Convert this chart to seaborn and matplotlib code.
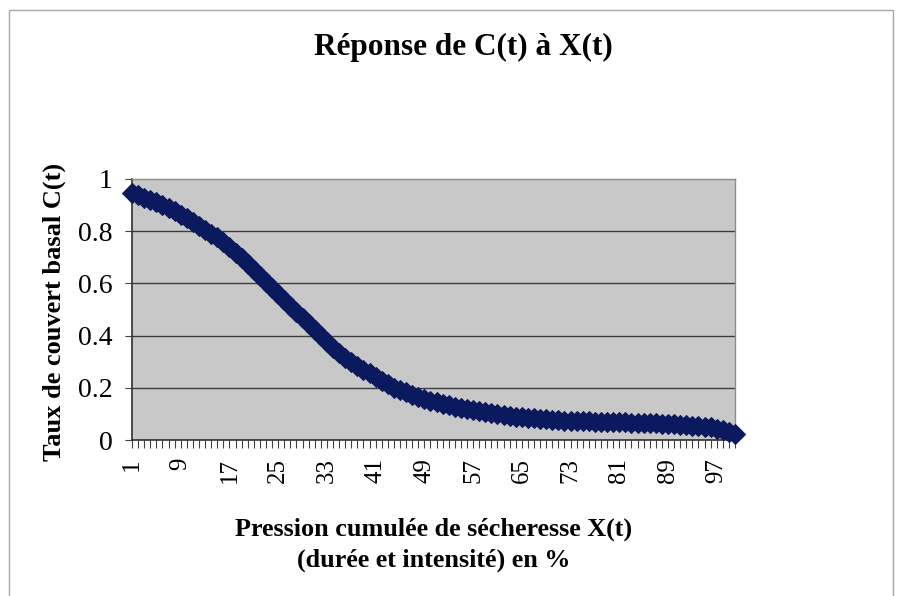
import matplotlib
matplotlib.use("Agg")
import matplotlib.pyplot as plt
from matplotlib.patches import Rectangle
import seaborn as sns
import pandas as pd

# ---- data ----
x_values = list(range(1, 101))
c_values = [
    0.945, 0.937, 0.929, 0.920, 0.910, 0.899, 0.888, 0.876, 0.863, 0.850,
    0.836, 0.821, 0.806, 0.791, 0.776, 0.760, 0.739, 0.718, 0.696, 0.673,
    0.650, 0.628, 0.605, 0.583, 0.560, 0.538, 0.515, 0.492, 0.469, 0.446,
    0.423, 0.400, 0.377, 0.354, 0.332, 0.315, 0.299, 0.284, 0.270, 0.255,
    0.241, 0.227, 0.214, 0.201, 0.191, 0.182, 0.174, 0.166, 0.158, 0.151,
    0.145, 0.139, 0.133, 0.128, 0.123, 0.118, 0.114, 0.110, 0.106, 0.102,
    0.099, 0.096, 0.093, 0.090, 0.088, 0.085, 0.083, 0.081, 0.079, 0.077,
    0.076, 0.074, 0.073, 0.072, 0.071, 0.071, 0.070, 0.070, 0.069, 0.069,
    0.068, 0.068, 0.067, 0.067, 0.066, 0.065, 0.064, 0.063, 0.062, 0.061,
    0.059, 0.057, 0.055, 0.053, 0.051, 0.048, 0.044, 0.039, 0.032, 0.023,
]
x_tick_labels = [str(v) for v in range(1, 101, 8)]
y_ticks = [0, 0.2, 0.4, 0.6, 0.8, 1]
y_tick_labels = ["0", "0.2", "0.4", "0.6", "0.8", "1"]

title = "Réponse de C(t) à X(t)"
xlabel = "Pression cumulée de sécheresse X(t)\n(durée et intensité) en %"
ylabel = "Taux de couvert basal C(t)"

df = pd.DataFrame({"X": x_values, "C": c_values})

sns.set_theme(style="white")
plt.rcParams["font.family"] = ["Liberation Serif", "DejaVu Serif"]
plt.rcParams["text.color"] = "black"
plt.rcParams["xtick.color"] = "black"
plt.rcParams["ytick.color"] = "black"
plt.rcParams["xtick.labelcolor"] = "black"
plt.rcParams["ytick.labelcolor"] = "black"

fig = plt.figure(figsize=(9.04, 5.96), dpi=100)
fig.patch.set_facecolor("white")
ax = fig.add_axes([132 / 904, 1 - 440 / 596, (735 - 132) / 904, (440 - 179) / 596])
ax.set_facecolor("#c8c8c8")

navy = "#0b1a5e"
sns.lineplot(data=df, x="X", y="C", ax=ax, color=navy, linewidth=4,
             marker="D", markersize=10, markeredgecolor=navy,
             markerfacecolor=navy, legend=False, clip_on=False, zorder=5)

ax.set_xlim(1, 100)
ax.set_ylim(0, 1)
ax.set_xticks(list(range(1, 101, 8)))
ax.set_xticklabels(x_tick_labels, rotation=90, fontsize=18)
ax.set_xticks(x_values, minor=True)
ax.set_yticks(y_ticks)
ax.set_yticklabels(y_tick_labels, fontsize=20)

ax.tick_params(axis="x", which="both", direction="out", length=6, width=0.8,
               color="#404040", bottom=True, pad=7)
ax.tick_params(axis="y", which="major", direction="out", length=5, width=0.8,
               color="#404040", left=True, pad=9)

for yv in [0.2, 0.4, 0.6, 0.8]:
    ax.axhline(yv, color="#3c3c3c", linewidth=1.0, zorder=1)

for side in ["left", "bottom"]:
    ax.spines[side].set_color("#303030")
    ax.spines[side].set_linewidth(1.2)
for side in ["top", "right"]:
    ax.spines[side].set_color("#8c8c8c")
    ax.spines[side].set_linewidth(1.0)
ax.spines["top"].set_visible(True)
ax.spines["right"].set_visible(True)

ax.set_xlabel("")
ax.set_ylabel("")

fig.text(463 / 904, 1 - 47 / 596, title, ha="center", va="center",
         fontsize=22.5, fontweight="bold")
fig.text(434 / 904, 1 - 545 / 596, xlabel, ha="center", va="center",
         fontsize=18.8, fontweight="bold", linespacing=1.45)
fig.text(54 / 904, 1 - 312 / 596, ylabel, ha="center", va="center",
         rotation=90, fontsize=19, fontweight="bold")

fig.patches.append(Rectangle((9 / 904, -0.1), (893 - 9) / 904, 1 - 10 / 596 + 0.1,
                             transform=fig.transFigure, fill=False,
                             edgecolor="#a8a8a8", linewidth=1.0))

fig.savefig("out.png", dpi=100, facecolor="white")
